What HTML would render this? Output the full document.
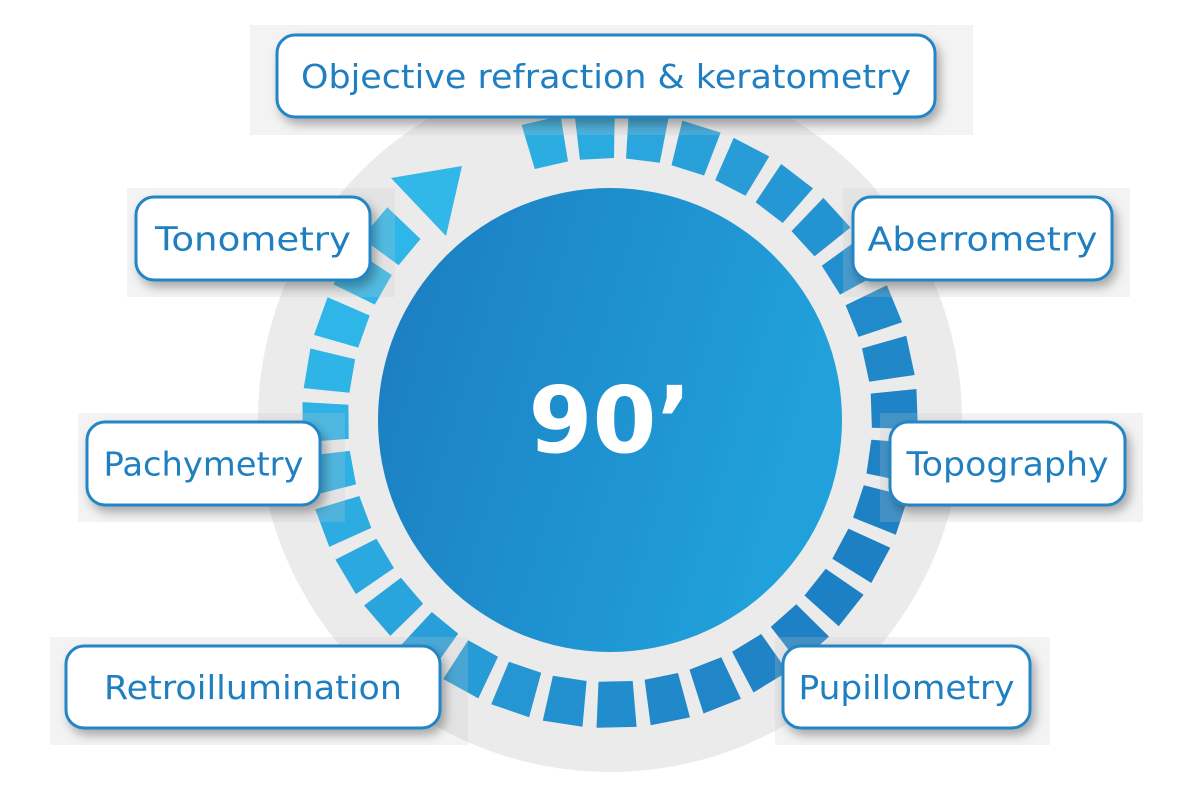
<!DOCTYPE html>
<html><head><meta charset="utf-8"><style>
html,body{margin:0;padding:0;background:#fff;width:1200px;height:800px;overflow:hidden}
svg{display:block}
</style></head><body>
<svg id="s" width="1200" height="800" viewBox="0 0 1200 800" xmlns="http://www.w3.org/2000/svg">
<defs>
<linearGradient id="cg" x1="0" y1="0" x2="1" y2="0.3">
<stop offset="0" stop-color="#1b7cc0"/><stop offset="1" stop-color="#21a1db"/>
</linearGradient>
<filter id="sh" x="-10%" y="-20%" width="130%" height="160%">
<feDropShadow dx="4" dy="6" stdDeviation="5" flood-color="#000" flood-opacity="0.3"/>
</filter>
</defs>
<circle cx="610" cy="420" r="352" fill="#ebebeb"/>
<g id="segs"></g>
<polygon points="391,178 462,166 446,236" fill="#31b7e8"/>
<circle cx="610" cy="420" r="232" fill="url(#cg)"/>
<text x="610" y="452" text-anchor="middle" font-family="DejaVu Sans, sans-serif" font-weight="bold" font-size="92" fill="#fff">90’</text>
<g id="labels" font-family="DejaVu Sans, sans-serif" font-size="33" fill="#1f7fc0"></g>
</svg>
<script>
var NS="http://www.w3.org/2000/svg";
var cx=610,cy=420,r1=262,r2=308;
var g=document.getElementById('segs');
var start=-18,end=315,n=33,pitch=(end-start)/n,w=pitch*0.74;
function pt(a,r){var t=(a-90)*Math.PI/180;return [cx+r*Math.cos(t),cy+r*Math.sin(t)];}
function mix(a,b,t){return 'rgb('+[0,1,2].map(function(i){return Math.round(a[i]+(b[i]-a[i])*t)}).join(',')+')';}
var light=[47,182,232],dark=[30,128,196];
for(var i=0;i<n;i++){
 var a0=start+i*pitch+(pitch-w)/2,a1=a0+w;
 var p=[pt(a0,r1),pt(a0,r2),pt(a1,r2),pt(a1,r1)];
 var am=(a0+a1)/2;
 var t=(Math.cos((am-120)*Math.PI/180)+1)/2;
 var e=document.createElementNS(NS,'polygon');
 e.setAttribute('points',p.map(function(q){return q[0].toFixed(1)+','+q[1].toFixed(1)}).join(' '));
 e.setAttribute('fill',mix(light,dark,t));
 g.appendChild(e);
}
var L=[
 [250,25,723,110,277,35,658,82,"Objective refraction & keratometry"],
 [127,188,268,109,136,197,234,83,"Tonometry"],
 [843,188,287,109,853,197,259,83,"Aberrometry"],
 [78,413,267,109,87,422,233,83,"Pachymetry"],
 [880,413,263,109,890,422,235,83,"Topography"],
 [50,637,418,108,66,646,374,82,"Retroillumination"],
 [775,637,275,108,783,646,247,82,"Pupillometry"]
];
var lg=document.getElementById('labels');
var tw={"Objective refraction & keratometry":610,"Tonometry":196,"Aberrometry":230,"Pachymetry":200,"Topography":202,"Retroillumination":298,"Pupillometry":216};
L.forEach(function(l){
 var b=document.createElementNS(NS,'rect');
 b.setAttribute('x',l[0]);b.setAttribute('y',l[1]);b.setAttribute('width',l[2]);b.setAttribute('height',l[3]);
 b.setAttribute('fill','rgba(200,200,200,0.22)');lg.appendChild(b);
 var r=document.createElementNS(NS,'rect');
 r.setAttribute('x',l[4]);r.setAttribute('y',l[5]);r.setAttribute('width',l[6]);r.setAttribute('height',l[7]);
 r.setAttribute('rx',18);r.setAttribute('fill','#fff');r.setAttribute('stroke','#2385c6');r.setAttribute('stroke-width',3);
 r.setAttribute('filter','url(#sh)');lg.appendChild(r);
 var t=document.createElementNS(NS,'text');
 t.setAttribute('x',l[4]+l[6]/2);t.setAttribute('y',l[5]+l[7]/2+12);t.setAttribute('text-anchor','middle');
 t.setAttribute('textLength',tw[l[8]]);t.setAttribute('lengthAdjust','spacingAndGlyphs');
 t.textContent=l[8];lg.appendChild(t);
});
</script>
</body></html>
